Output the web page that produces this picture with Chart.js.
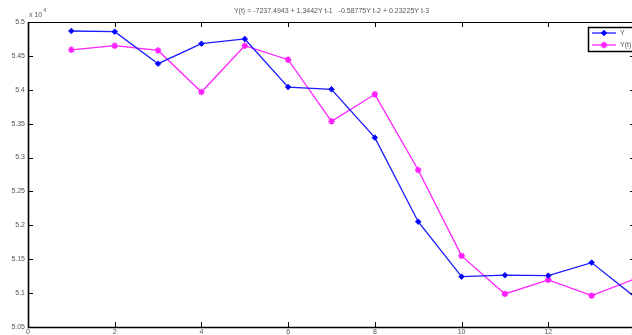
<!DOCTYPE html>
<html>
<head>
<meta charset="utf-8">
<script src="https://cdn.jsdelivr.net/npm/chart.js@4"></script>
<style>
    html, body { margin: 0; padding: 0; background: #fff; overflow: hidden; }
    #wrap { width: 642px; height: 335px; }
</style>
</head>
<body>
<div id="wrap"><canvas id="chart" width="642" height="335"></canvas></div>
<script>
// Data
const steps = [1, 2, 3, 4, 5, 6, 7, 8, 9, 10, 11, 12, 13, 14];
const actualY = [5.4867, 5.4857, 5.4385, 5.468, 5.475, 5.404, 5.4007, 5.3294, 5.2054, 5.1243, 5.1264, 5.1258, 5.145, 5.094];
const fittedY = [5.459, 5.465, 5.458, 5.3967, 5.465, 5.4444, 5.3535, 5.3933, 5.2817, 5.1549, 5.0988, 5.1195, 5.0963, 5.121];
const xTicks = [0, 2, 4, 6, 8, 10, 12, 14];
const yTicks = [5.05, 5.1, 5.15, 5.2, 5.25, 5.3, 5.35, 5.4, 5.45, 5.5];
const titleText = 'Y(t) = -7237.4943 + 1.3442Y t-1   -0.58775Y t-2 + 0.23225Y t-3';
const exponentText = 'x 10';
const exponentPower = '4';

const FONT = '"Liberation Sans", Arial, sans-serif';
const TEXT_COLOR = '#555';

const toPoints = (vals) => vals.map((v, i) => ({ x: steps[i], y: v }));

/**
 * MATLAB-like frame: box, inward ticks, title, exponent and legend
 */
const matlabFrame = {
    id: 'matlabFrame',
    afterDraw(chart) {
        const { ctx, chartArea: a, scales } = chart;
        ctx.save();
        ctx.strokeStyle = '#000';
        ctx.lineWidth = 1;
        ctx.strokeRect(a.left + 0.5, a.top + 0.5, a.right - a.left, a.bottom - a.top);
        // heavier left and bottom axis lines
        ctx.lineWidth = 1.6;
        ctx.beginPath();
        ctx.moveTo(a.left + 0.5, a.top); ctx.lineTo(a.left + 0.5, a.bottom + 0.5);
        ctx.lineTo(a.right, a.bottom + 0.5);
        ctx.stroke();

        // inward ticks
        const len = 5;
        ctx.lineWidth = 1;
        ctx.beginPath();
        xTicks.forEach(t => {
            const px = Math.round(scales.x.getPixelForValue(t)) + 0.5;
            ctx.moveTo(px, a.bottom); ctx.lineTo(px, a.bottom - len);
            ctx.moveTo(px, a.top); ctx.lineTo(px, a.top + len);
        });
        yTicks.forEach(t => {
            const py = Math.round(scales.y.getPixelForValue(t)) + 0.5;
            ctx.moveTo(a.left, py); ctx.lineTo(a.left + len, py);
            ctx.moveTo(a.right, py); ctx.lineTo(a.right - len, py);
        });
        ctx.stroke();

        // title
        ctx.fillStyle = TEXT_COLOR;
        ctx.font = '7px ' + FONT;
        ctx.textAlign = 'center';
        ctx.textBaseline = 'middle';
        ctx.fillText(titleText, (a.left + a.right) / 2, 11);

        // exponent label
        ctx.textAlign = 'left';
        ctx.font = '7px ' + FONT;
        ctx.fillText(exponentText, a.left + 1, 15);
        const w = ctx.measureText(exponentText).width;
        ctx.font = '5px ' + FONT;
        ctx.fillText(exponentPower, a.left + 2 + w, 11);

        // legend box
        const lx = 588, ly = 27, lw = 80, lh = 24;
        ctx.fillStyle = '#fff';
        ctx.fillRect(lx, ly, lw, lh);
        ctx.lineWidth = 1.5;
        ctx.strokeStyle = '#000';
        ctx.strokeRect(lx + 0.5, ly + 0.5, lw, lh);
        chart.data.datasets.forEach((ds, i) => {
            const yy = ly + 6 + i * 12;
            ctx.strokeStyle = ds.borderColor;
            ctx.fillStyle = ds.backgroundColor;
            ctx.lineWidth = 1.3;
            ctx.beginPath();
            ctx.moveTo(lx + 4, yy); ctx.lineTo(lx + 28, yy);
            ctx.stroke();
            ctx.lineWidth = ds.pointBorderWidth;
            Chart.helpers.drawPoint(ctx, {
                pointStyle: ds.pointStyle, radius: ds.pointRadius, borderWidth: ds.pointBorderWidth
            }, lx + 16, yy);
            ctx.fillStyle = TEXT_COLOR;
            ctx.font = '7px ' + FONT;
            ctx.textAlign = 'left';
            ctx.fillText(ds.label, lx + 32, yy);
        });
        ctx.restore();
    }
};

new Chart(document.getElementById('chart').getContext('2d'), {
    type: 'line',
    data: {
        datasets: [
            {
                label: 'Y',
                data: toPoints(actualY),
                borderColor: '#1a1aff',
                backgroundColor: '#0000ff',
                borderWidth: 1.3,
                pointStyle: 'rectRot',
                pointRadius: 2.8,
                pointBorderWidth: 1,
                tension: 0
            },
            {
                label: 'Y(t)',
                data: toPoints(fittedY),
                borderColor: '#ff22ff',
                backgroundColor: '#ff00ff',
                borderWidth: 1.3,
                pointStyle: 'star',
                pointRadius: 3.2,
                pointBorderWidth: 1.6,
                tension: 0
            }
        ]
    },
    options: {
        responsive: false,
        animation: false,
        events: [],
        layout: { padding: { top: 22, right: 7, left: 0, bottom: 0 } },
        plugins: {
            legend: { display: false },
            tooltip: { enabled: false }
        },
        scales: {
            x: {
                type: 'linear',
                min: 0,
                max: 14,
                afterFit: (s) => { s.height = 8; },
                afterBuildTicks: (s) => { s.ticks = xTicks.map(v => ({ value: v })); },
                grid: { display: false, drawTicks: false },
                border: { display: false },
                ticks: {
                    color: TEXT_COLOR,
                    padding: 1,
                    maxRotation: 0,
                    font: { family: FONT, size: 7 },
                    callback: (v) => String(v)
                }
            },
            y: {
                min: 5.05,
                max: 5.5,
                afterFit: (s) => { s.width = 28; },
                afterBuildTicks: (s) => { s.ticks = yTicks.map(v => ({ value: v })); },
                grid: { display: false, drawTicks: false },
                border: { display: false },
                ticks: {
                    color: TEXT_COLOR,
                    padding: 3,
                    font: { family: FONT, size: 7 },
                    callback: (v) => String(parseFloat(v.toFixed(2)))
                }
            }
        }
    },
    plugins: [matlabFrame]
});
</script>
</body>
</html>
